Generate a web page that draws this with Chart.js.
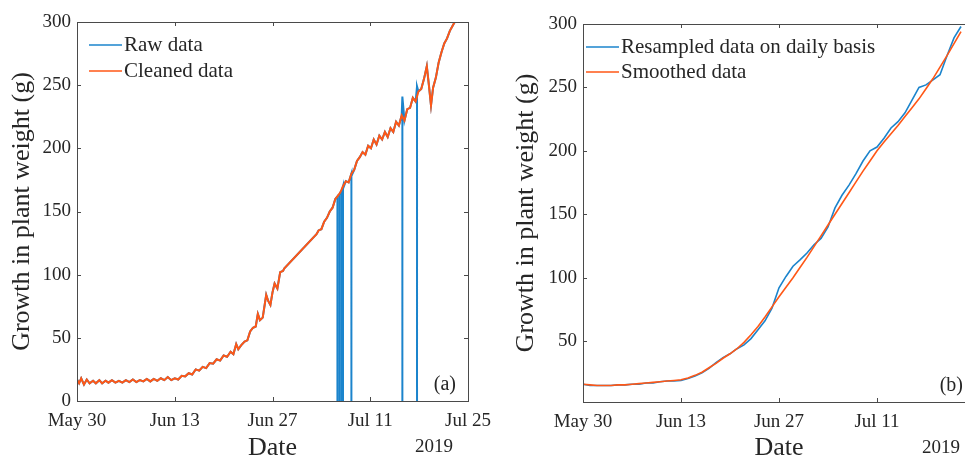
<!DOCTYPE html>
<html>
<head>
<meta charset="utf-8">
<script src="https://cdn.jsdelivr.net/npm/chart.js@4.4.1/dist/chart.umd.min.js"></script>
<style>
  html, body { margin: 0; padding: 0; background: #fff; overflow: hidden; }
  #wrapA { position: absolute; left: 0; top: 0; width: 530px; height: 459px; }
  #wrapB { position: absolute; left: 482px; top: 0; width: 540px; height: 459px; }
</style>
</head>
<body>
<div id="wrapA"><canvas id="chartA" width="530" height="459"></canvas></div>
<div id="wrapB"><canvas id="chartB" width="540" height="459"></canvas></div>
<script>
// x values are days counted from May 30 2019
var xTickDaysA = [0, 14, 28, 42, 56];
var xTickDaysB = [0, 14, 28, 42];
var xTickLabels = ['May 30', 'Jun 13', 'Jun 27', 'Jul 11', 'Jul 25'];
var yTicksA = [0, 50, 100, 150, 200, 250, 300];
var yTicksB = [50, 100, 150, 200, 250, 300];

// (a) cleaned data
var cleanDays = [0, 0.3, 0.6, 1.0, 1.4, 1.8, 2.3, 2.7, 3.2, 3.6, 4.1, 4.5, 5.0, 5.5, 6.0, 6.5, 7.0, 7.5, 8.0, 8.5,
  9.0, 9.5, 10.0, 10.5, 11.0, 11.5, 12.0, 12.5, 13.0, 13.5, 14.0, 14.5, 15.0, 15.5, 16.0, 16.5, 17.0, 17.5, 18.0, 18.5,
  19.0, 19.5, 20.0, 20.5, 21.0, 21.5, 22.0, 22.4, 22.8, 23.1, 23.5, 24.0, 24.4, 24.8, 25.2, 25.6, 25.9, 26.2, 26.6, 27.1,
  27.4, 27.7, 28.0, 28.3, 28.7, 29.1, 29.5, 29.7, 34.3, 34.6, 35.0, 35.4, 35.8, 36.2, 36.6, 37.0, 37.3, 37.7, 38.1, 38.5,
  38.9, 39.3, 39.7, 40.1, 40.5, 40.9, 41.3, 41.7, 42.1, 42.5, 42.9, 43.3, 43.7, 44.1, 44.5, 44.9, 45.3, 45.7, 46.1, 46.5,
  46.9, 47.3, 47.7, 48.1, 48.5, 48.9, 49.3, 49.7, 50.1, 50.4, 50.7, 51.0, 51.4, 51.8, 52.2, 52.6, 53.0, 53.4, 53.8, 54.2, 54.6];
var cleanGrams = [17, 14, 18, 13, 17, 14, 16, 14, 16.5, 14, 16, 14.5, 16.5, 14.5, 16, 14.5, 16.5, 15, 17, 15,
  16.5, 15.5, 17.5, 15.5, 17.5, 16, 18, 16.5, 19, 16.5, 18, 17, 20, 19.5, 22, 21, 25, 24, 27, 26,
  30, 29.5, 33, 32, 36, 35, 39, 37, 45, 41, 44, 47, 48, 55, 58, 59, 69, 64, 66, 84,
  79, 76, 86, 93, 89, 102, 103, 105, 132, 135, 136, 142, 145, 150, 153, 160, 162, 165, 170, 174,
  173, 180, 183, 190, 193, 197, 195, 202, 200, 207, 203, 210, 207, 213, 209, 216, 213, 221, 218, 226,
  222, 231, 232, 240, 237, 245, 247, 255, 265, 250, 234, 248, 256, 268, 276, 283, 287, 293, 297, 301, 305];

// (a) raw data: same readings plus drop-outs where the scale read 0
var dropDays = [37.3, 37.6, 37.9, 38.1, 39.3, 46.6, 48.7];
var dropTops = [162, 163, 166, 168, 178, 241, 249];

// (b) daily values, day 0 .. 54
var resampled = [16, 15, 15, 15, 15, 15.5, 15.5, 16, 16, 17, 17, 18, 18.5, 18.5, 19, 20.5, 22.5, 25, 28.5, 33,
  37, 40, 44, 47, 52, 59, 66, 76, 92, 101, 109, 114, 119.5, 126, 131, 140, 155, 165, 173, 182,
  192, 200, 203, 210, 218, 223, 230, 240, 250, 252, 256, 260, 275, 289, 298];
var smoothed = [16, 15.5, 15, 15, 15, 15.5, 15.5, 16, 16.5, 17, 17.5, 18, 18.5, 19, 19.5, 21, 23, 25.5, 29, 32.5,
  36.5, 40, 44, 49, 55, 61.5, 69, 77, 85, 92.5, 100, 108, 116, 124.5, 133, 141.5, 150, 158.5, 167, 175.5,
  184, 192, 200, 207, 213.5, 220, 227, 234, 241, 249, 257, 266, 275, 284.5, 294];

var BLUE = '#1b84cc';
var ORANGE = '#ff5716';
var INK = '#262626';
var FRAME = '#4a4a4a';

Chart.defaults.font.family = '"Liberation Serif", "Times New Roman", serif';
Chart.defaults.color = INK;

function pts(xs, ys) {
  return xs.map(function (x, i) { return { x: x, y: ys[i] }; });
}

var rawPts = pts(cleanDays, cleanGrams);
dropDays.forEach(function (d, i) {
  rawPts.push({ x: d, y: dropTops[i] }, { x: d, y: 0 }, { x: d, y: dropTops[i] });
});
rawPts.sort(function (a, b) { return a.x - b.x; });

var dayIdx = resampled.map(function (v, i) { return i; });

// box round the plot, inward ticks on all sides, year and panel tag
var framePlugin = {
  id: 'frame',
  afterDraw: function (chart, args, opts) {
    var a = chart.chartArea, ctx = chart.ctx;
    var sx = chart.scales.x, sy = chart.scales.y;
    ctx.save();
    ctx.strokeStyle = FRAME;
    ctx.lineWidth = 1;
    ctx.strokeRect(Math.round(a.left) + 0.5, Math.round(a.top) + 0.5, Math.round(a.right - a.left), Math.round(a.bottom - a.top));
    ctx.beginPath();
    sx.ticks.forEach(function (t) {
      var px = Math.round(sx.getPixelForValue(t.value)) + 0.5;
      ctx.moveTo(px, a.bottom); ctx.lineTo(px, a.bottom - 4);
      ctx.moveTo(px, a.top); ctx.lineTo(px, a.top + 4);
    });
    sy.ticks.forEach(function (t) {
      var py = Math.round(sy.getPixelForValue(t.value)) + 0.5;
      ctx.moveTo(a.left, py); ctx.lineTo(a.left + 4, py);
      ctx.moveTo(a.right, py); ctx.lineTo(a.right - 4, py);
    });
    ctx.stroke();
    ctx.fillStyle = INK;
    ctx.textAlign = 'right';
    ctx.textBaseline = 'middle';
    ctx.font = '19px "Liberation Serif"';
    ctx.fillText('2019', a.right - 15, a.bottom + 46);
    ctx.font = '20px "Liberation Serif"';
    ctx.fillText(opts.tag, a.right - 12, a.bottom - 16);
    ctx.restore();
  }
};

// legend drawn inside the plot, no box
var legendPlugin = {
  id: 'innerLegend',
  afterDraw: function (chart, args, opts) {
    var ctx = chart.ctx;
    ctx.save();
    ctx.font = '21px "Liberation Serif"';
    ctx.textAlign = 'left';
    ctx.textBaseline = 'middle';
    chart.data.datasets.forEach(function (ds, i) {
      var yy = opts.y + i * opts.gap;
      ctx.strokeStyle = ds.borderColor;
      ctx.lineWidth = 1.5;
      ctx.beginPath();
      ctx.moveTo(opts.x, yy);
      ctx.lineTo(opts.x + 33, yy);
      ctx.stroke();
      ctx.fillStyle = INK;
      ctx.fillText(ds.label, opts.x + 35, yy);
    });
    ctx.restore();
  }
};

function makeOptions(cfg) {
  return {
    responsive: false,
    animation: false,
    layout: { padding: { left: cfg.padLeft, right: cfg.padRight, top: cfg.padTop, bottom: 0 } },
    plugins: {
      legend: { display: false },
      tooltip: { enabled: false },
      frame: { tag: cfg.tag },
      innerLegend: { x: cfg.legX, y: cfg.legY, gap: cfg.legGap }
    },
    scales: {
      x: {
        type: 'linear',
        min: 0,
        max: 56,
        afterBuildTicks: function (s) { s.ticks = cfg.xTicks.map(function (v) { return { value: v }; }); },
        afterFit: function (s) { s.height = cfg.xHeight; },
        ticks: {
          padding: 9,
          maxRotation: 0,
          autoSkip: false,
          font: { size: 19 },
          callback: function (v) { return xTickLabels[xTickDaysA.indexOf(v)]; }
        },
        grid: { display: false, drawTicks: false },
        border: { display: false },
        title: { display: true, text: 'Date', font: { size: 26 }, padding: { top: 0, bottom: -5 } }
      },
      y: {
        min: cfg.yMin,
        max: 300,
        afterBuildTicks: function (s) { s.ticks = cfg.yTicks.map(function (v) { return { value: v }; }); },
        afterFit: function (s) { s.width = cfg.yWidth; },
        ticks: { padding: 6, font: { size: 19 } },
        grid: { display: false, drawTicks: false },
        border: { display: false },
        title: { display: true, text: 'Growth in plant weight (g)', font: { size: 26 }, padding: { top: 7, bottom: 0 } }
      }
    }
  };
}

new Chart(document.getElementById('chartA'), {
  type: 'line',
  data: {
    datasets: [{
      label: 'Raw data',
      data: rawPts,
      borderColor: BLUE,
      borderWidth: 2,
      pointRadius: 0,
      order: 2,
      clip: 0
    }, {
      label: 'Cleaned data',
      data: pts(cleanDays, cleanGrams),
      borderColor: ORANGE,
      borderWidth: 2,
      pointRadius: 0,
      order: 1,
      clip: 0
    }]
  },
  options: makeOptions({
    padLeft: 0, padRight: 62, padTop: 22, xHeight: 58, yWidth: 77, yMin: 0, yTicks: yTicksA, xTicks: xTickDaysA,
    tag: '(a)', legX: 89, legY: 45, legGap: 26
  }),
  plugins: [framePlugin, legendPlugin]
});

new Chart(document.getElementById('chartB'), {
  type: 'line',
  data: {
    datasets: [{
      label: 'Resampled data on daily basis',
      data: pts(dayIdx, resampled),
      borderColor: BLUE,
      borderWidth: 1.6,
      pointRadius: 0,
      order: 2,
      clip: 0
    }, {
      label: 'Smoothed data',
      data: pts(dayIdx, smoothed),
      borderColor: ORANGE,
      borderWidth: 1.6,
      pointRadius: 0,
      order: 1,
      clip: 0
    }]
  },
  options: makeOptions({
    padLeft: 22, padRight: 47, padTop: 24, xHeight: 57, yWidth: 79, yMin: 2, yTicks: yTicksB, xTicks: xTickDaysB,
    tag: '(b)', legX: 104, legY: 47, legGap: 25
  }),
  plugins: [framePlugin, legendPlugin]
});
</script>
</body>
</html>
